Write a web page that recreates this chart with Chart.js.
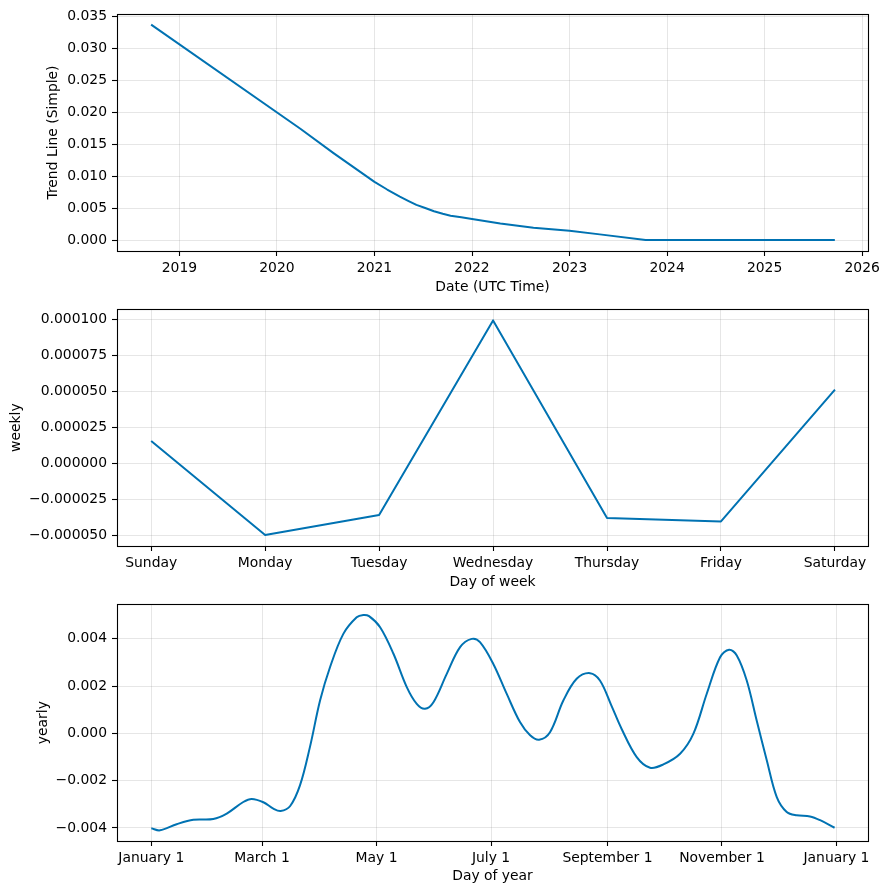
<!DOCTYPE html>
<html>
<head>
<meta charset="utf-8">
<script src="https://cdn.jsdelivr.net/npm/chart.js@4"></script>
<style>
  body { margin: 0; background: #fff; }
  #wrap { position: relative; width: 889px; height: 894px; }
  canvas { position: absolute; left: 0; }
</style>
</head>
<body>
<div id="wrap">
  <canvas id="trendChart" width="889" height="296" style="top:0px;width:889px;height:296px"></canvas>
  <canvas id="weeklyChart" width="889" height="295" style="top:296px;width:889px;height:295px"></canvas>
  <canvas id="yearlyChart" width="889" height="294" style="top:591px;width:889px;height:294px"></canvas>
</div>
<script>
// Tendência (anos decimais)
const trendYears  = [2018.71, 2020.24, 2020.58, 2021.0, 2021.13, 2021.26, 2021.35, 2021.43, 2021.52, 2021.61, 2021.7, 2021.78, 2021.89, 2022.0, 2022.29, 2022.63, 2023.0, 2023.31, 2023.78, 2024.5, 2025.72];
const trendValues = [0.0337, 0.0174, 0.0136, 0.0091, 0.0079, 0.0068, 0.0061, 0.0055, 0.0050, 0.0045, 0.0041, 0.0038, 0.00355, 0.0033, 0.0026, 0.0019, 0.00146, 0.00088, 0.0, 0.0, 0.0];
const trendXTicks = [2019, 2020, 2021, 2022, 2023, 2024, 2025, 2026];
const trendYTicks = [0, 0.005, 0.01, 0.015, 0.02, 0.025, 0.03, 0.035];

// Semanal
const weekDays     = ['Sunday', 'Monday', 'Tuesday', 'Wednesday', 'Thursday', 'Friday', 'Saturday'];
const weeklyValues = [0.0000157, -0.0000498, -0.0000359, 0.0000995, -0.000038, -0.0000403, 0.0000514];
const weeklyYTicks = [-0.00005, -0.000025, 0, 0.000025, 0.00005, 0.000075, 0.0001];

// Anual (dia do ano)
const yearlyDays = [0, 4.6, 13.5, 22.4, 33, 40.2, 49, 53.5, 59.7, 65, 68.9, 73.9, 79.2, 84.5, 89.9, 95.2,
  102.3, 109.4, 112.9, 116, 121.9, 129, 136.1, 141.4, 145.8, 150.3, 157.4, 164.5, 170.7, 175.1, 182.2,
  189.3, 196.4, 201.8, 206.6, 212.4, 219.5, 226.6, 233.7, 239, 245, 250.5, 258.6, 265.7, 272.8, 281.7,
  288.8, 295.9, 303, 307.8, 311.9, 317.2, 322.5, 327.9, 333.2, 338.5, 343.8, 350.9, 356.3, 364];
const yearlyValues = [-0.00401, -0.0041, -0.00384, -0.00365, -0.00362, -0.00339, -0.0029, -0.00277, -0.00291, -0.00318, -0.00328, -0.00308, -0.0022, -0.00058, 0.00139, 0.0028,
  0.00421, 0.00491, 0.00501, 0.00496, 0.00449, 0.00337, 0.00196, 0.00125, 0.00104, 0.00132, 0.00252, 0.00365, 0.004, 0.00386, 0.00294,
  0.00168, 0.00048, -0.00008, -0.00027, 0.00005, 0.00139, 0.00231, 0.00255, 0.00224, 0.0012, 0.0002, -0.001, -0.00145, -0.00131, -0.00086,
  -0.00001, 0.00168, 0.00322, 0.00354, 0.0033, 0.00224, 0.00055, -0.00114, -0.00269, -0.00332, -0.00346, -0.00351, -0.00367, -0.00399];
const monthTicks  = [0, 59, 120, 181, 243, 304, 365];
const monthLabels = ['January 1', 'March 1', 'May 1', 'July 1', 'September 1', 'November 1', 'January 1'];
const yearlyYTicks = [-0.004, -0.002, 0, 0.002, 0.004];

Chart.defaults.font.family = 'DejaVu Sans';
Chart.defaults.font.size = 13.9;
Chart.defaults.color = '#000';

const LINE = '#0072B2';
const GRID = 'rgba(128,128,128,0.2)';

// Moldura preta em volta da área (as 4 bordas do matplotlib)
const frame = {
  id: 'frame',
  afterDraw(chart) {
    const { ctx, chartArea: a } = chart;
    ctx.save();
    ctx.strokeStyle = '#000';
    ctx.lineWidth = 1.1;
    ctx.strokeRect(Math.round(a.left) + 0.5, Math.round(a.top) + 0.5,
      Math.round(a.right) - Math.round(a.left), Math.round(a.bottom) - Math.round(a.top));
    ctx.restore();
  }
};

const minus = s => s.replace('-', '\u2212');

function makeChart(id, o) {
  const points = o.xs.map((x, i) => ({ x, y: o.ys[i] }));
  return new Chart(document.getElementById(id), {
    type: 'line',
    data: { datasets: [{
      data: points,
      borderColor: LINE,
      borderWidth: 2,
      pointRadius: 0,
      borderJoinStyle: 'round',
      tension: o.tension
    }] },
    options: {
      responsive: false,
      animation: false,
      devicePixelRatio: 1,
      layout: { padding: { top: o.padTop, right: 21, left: 0, bottom: 0 } },
      plugins: { legend: { display: false }, tooltip: { enabled: false } },
      scales: {
        x: {
          type: 'linear',
          min: o.xMin, max: o.xMax,
          bounds: 'data',
          afterBuildTicks: s => { s.ticks = o.xTicks.map(v => ({ value: v })); },
          afterFit: s => { s.height = o.xHeight; },
          ticks: { autoSkip: false, maxRotation: 0, padding: 4, callback: o.xLabel },
          grid: { color: GRID, lineWidth: 1, tickColor: '#000', tickLength: 5, tickWidth: 1.1 },
          border: { display: false },
          title: { display: true, text: o.xTitle, padding: { top: 0, bottom: 0 } }
        },
        y: {
          type: 'linear',
          min: o.yMin, max: o.yMax,
          bounds: 'data',
          afterBuildTicks: s => { s.ticks = o.yTicks.map(v => ({ value: v })); },
          afterFit: s => { s.width = 117; },
          ticks: { padding: 5, callback: o.yLabel },
          grid: { color: GRID, lineWidth: 1, tickColor: '#000', tickLength: 5, tickWidth: 1.1 },
          border: { display: false },
          title: { display: true, text: o.yTitle, padding: { top: o.yTitlePad, bottom: 0 } }
        }
      }
    },
    plugins: [frame]
  });
}

makeChart('trendChart', {
  xs: trendYears, ys: trendValues, tension: 0,
  padTop: 14, xHeight: 45,
  xMin: 2018.36, xMax: 2026.06, xTicks: trendXTicks, xLabel: v => String(v),
  yMin: -0.00172, yMax: 0.03536, yTicks: trendYTicks, yLabel: v => minus(v.toFixed(3)),
  xTitle: 'Date (UTC Time)', yTitle: 'Trend Line (Simple)', yTitlePad: 45.5
});

makeChart('weeklyChart', {
  xs: weekDays.map((d, i) => i), ys: weeklyValues, tension: 0,
  padTop: 13, xHeight: 45,
  xMin: -0.3, xMax: 6.29, xTicks: weekDays.map((d, i) => i), xLabel: v => weekDays[v],
  yMin: -0.0000574, yMax: 0.0001072, yTicks: weeklyYTicks, yLabel: v => minus(v.toFixed(6)),
  xTitle: 'Day of week', yTitle: 'weekly', yTitlePad: 8.5
});

makeChart('yearlyChart', {
  xs: yearlyDays, ys: yearlyValues, tension: 0.35,
  padTop: 13, xHeight: 44,
  xMin: -18.27, xMax: 381.8, xTicks: monthTicks, xLabel: (v, i) => monthLabels[i],
  yMin: -0.00455, yMax: 0.00546, yTicks: yearlyYTicks, yLabel: v => minus(v.toFixed(3)),
  xTitle: 'Day of year', yTitle: 'yearly', yTitlePad: 35.5
});
</script>
</body>
</html>
